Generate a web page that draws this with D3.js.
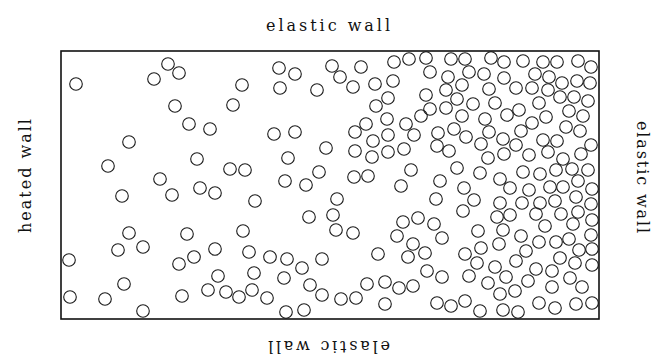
<!DOCTYPE html>
<html>
<head>
<meta charset="utf-8">
<script src="https://cdn.jsdelivr.net/npm/d3@7"></script>
<style>
  html, body { margin: 0; padding: 0; background: #fff; }
  text { font-family: "DejaVu Serif", "Liberation Serif", serif; fill: #111; }
</style>
</head>
<body>
<svg id="chart" width="652" height="358"></svg>
<script>
// Box size in particle units (width x height)
const boxW = 538;
const boxH = 268;

// Particle centre positions: x from the heated (left) wall, y from the bottom wall
const px = [
  15,107,118,93,181,114,172,128,149,68,136,47,169,184,99,139,154,
  61,111,68,126,182,57,82,154,188,8,118,133,157,63,9,44,121,147,165,178,82,
  218,234,271,279,300,333,348,365,219,256,292,314,332,369,327,315,365,369,360,
  305,326,345,294,327,312,353,213,234,265,294,311,327,343,227,258,293,307,350,224,245,340,
  194,276,248,272,275,292,342,357,336,352,209,226,261,317,347,364,193,223,241,366,
  191,206,249,261,280,295,306,324,338,352,324,225,243,
  390,404,430,443,462,482,496,517,530,387,408,423,443,474,488,501,516,529,401,385,
  428,455,471,487,396,499,513,527,385,412,434,478,508,522,401,424,446,458,485,393,
  377,428,460,471,505,519,405,442,455,482,496,376,388,420,427,443,468,487,502,520,
  530,396,419,439,462,479,495,511,527,517,379,403,449,468,489,502,531,
  375,413,402,439,461,479,494,515,530,436,449,475,484,500,517,531,373,442,512,381,
  417,460,478,495,508,530,404,420,438,465,455,499,518,531,416,434,475,491,514,531,
  381,408,445,467,509,427,454,439,491,521,376,390,404,419,442,457,478,494,515,531
];
const py = [
  235,255,246,240,234,213,214,195,190,177,160,153,150,149,140,131,126,
  123,124,86,85,88,69,72,70,67,59,55,62,43,35,22,20,23,29,27,22,8,
  251,245,253,242,252,257,260,261,231,229,232,235,238,247,221,213,224,210,203,
  195,200,195,187,184,178,184,185,187,171,168,162,167,170,161,147,142,143,149,138,134,133,
  118,120,102,104,89,86,97,101,83,75,62,60,60,65,62,66,46,41,51,48,
  29,21,34,24,20,21,35,37,31,33,15,7,9,
  260,260,261,257,258,257,257,258,252,242,247,245,241,245,242,236,238,236,234,229,
  230,231,231,229,220,222,222,218,211,215,216,216,208,203,203,200,204,209,202,190,
  186,187,188,196,192,188,182,180,174,179,178,173,168,175,161,165,164,167,160,165,
  174,151,146,140,147,145,149,150,149,138,138,131,131,129,132,132,130,
  120,119,108,116,116,116,118,122,115,102,104,105,93,105,107,99,95,89,95,81,
  88,83,77,77,80,84,65,71,75,68,58,61,69,70,56,52,50,48,56,54,
  42,43,42,38,41,36,28,25,32,32,16,13,18,8,9,7,16,11,15,16
];

// Wall labels
const wallLabels = {
  top: "elastic wall",
  bottom: "elastic wall",
  left: "heated wall",
  right: "elastic wall"
};

const particles = px.map((x, i) => ({ x, y: py[i] }));

const svg = d3.select("#chart");
const boxLeft = 61, boxRight = 599, boxTop = 51, boxBottom = 319;

const x = d3.scaleLinear().domain([0, boxW]).range([boxLeft, boxRight]);
const y = d3.scaleLinear().domain([0, boxH]).range([boxBottom, boxTop]);

// Particles
svg.append("g")
  .selectAll("circle")
  .data(particles)
  .join("circle")
  .attr("cx", d => x(d.x))
  .attr("cy", d => y(d.y))
  .attr("r", 6.3)
  .attr("fill", "none")
  .attr("stroke", "#1a1a1a")
  .attr("stroke-width", 1.1);

// Container walls
svg.append("rect")
  .attr("x", x(0))
  .attr("y", y(boxH))
  .attr("width", x(boxW) - x(0))
  .attr("height", y(0) - y(boxH))
  .attr("fill", "none")
  .attr("stroke", "#111")
  .attr("stroke-width", 1.6);

// Labels on each side, each oriented to face outward
const labelSpecs = [
  { text: wallLabels.top,    tx: 328, ty: 30.5, rot: 0,   len: 124 },
  { text: wallLabels.bottom, tx: 329, ty: 341,  rot: 180, len: 122 },
  { text: wallLabels.left,   tx: 31,  ty: 176,  rot: -90, len: 114 },
  { text: wallLabels.right,  tx: 637, ty: 177,  rot: 90,  len: 112 }
];

svg.append("g")
  .selectAll("text")
  .data(labelSpecs)
  .join("text")
  .attr("transform", d => `translate(${d.tx},${d.ty}) rotate(${d.rot})`)
  .attr("text-anchor", "middle")
  .attr("font-size", 16)
  .attr("textLength", d => d.len)
  .attr("lengthAdjust", "spacing")
  .text(d => d.text);
</script>
</body>
</html>
